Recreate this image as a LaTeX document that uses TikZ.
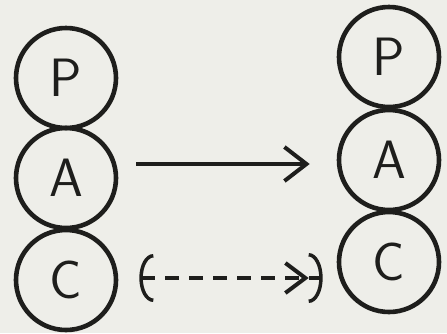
\documentclass[tikz,border=0pt]{standalone}
\usetikzlibrary{arrows.meta}
\definecolor{paper}{RGB}{238,238,233}
\definecolor{ink}{RGB}{30,30,28}
\begin{document}
\begin{tikzpicture}[x=1pt,y=-1pt,
  ball/.style={circle,draw=ink,line width=4.6pt,minimum size=100pt,inner sep=0pt,
    font=\sffamily\fontsize{54}{54}\selectfont,text=ink},
  link/.style={draw=ink,line width=4pt}]
\fill[paper] (0,0) rectangle (447,333);
\useasboundingbox (0,0) rectangle (447,333);
\node[ball] (lP) at (66,78) {P};
\node[ball] (lA) at (66,178) {A};
\node[ball] (lC) at (66,280) {C};
\node[ball] (rP) at (389,57) {P};
\node[ball] (rA) at (389,160) {A};
\node[ball] (rC) at (389,262) {C};
\draw[link,-{Straight Barb[length=22pt,width=34pt,line width=4pt]}]
  ([shift={(18,-14)}]lA.east) -- ([shift={(-27,4)}]rA.west);
\draw[link,dash pattern=on 14pt off 10pt,
  {Arc Barb[length=14pt,width=48pt,line width=3.5pt]}-{Straight Barb[length=20pt,width=30pt,line width=4pt] Arc Barb[length=14pt,width=50pt,line width=3.5pt]}]
  ([shift={(21,-2)}]lC.east) -- ([shift={(-14,16)}]rC.west);
\end{tikzpicture}
\end{document}
